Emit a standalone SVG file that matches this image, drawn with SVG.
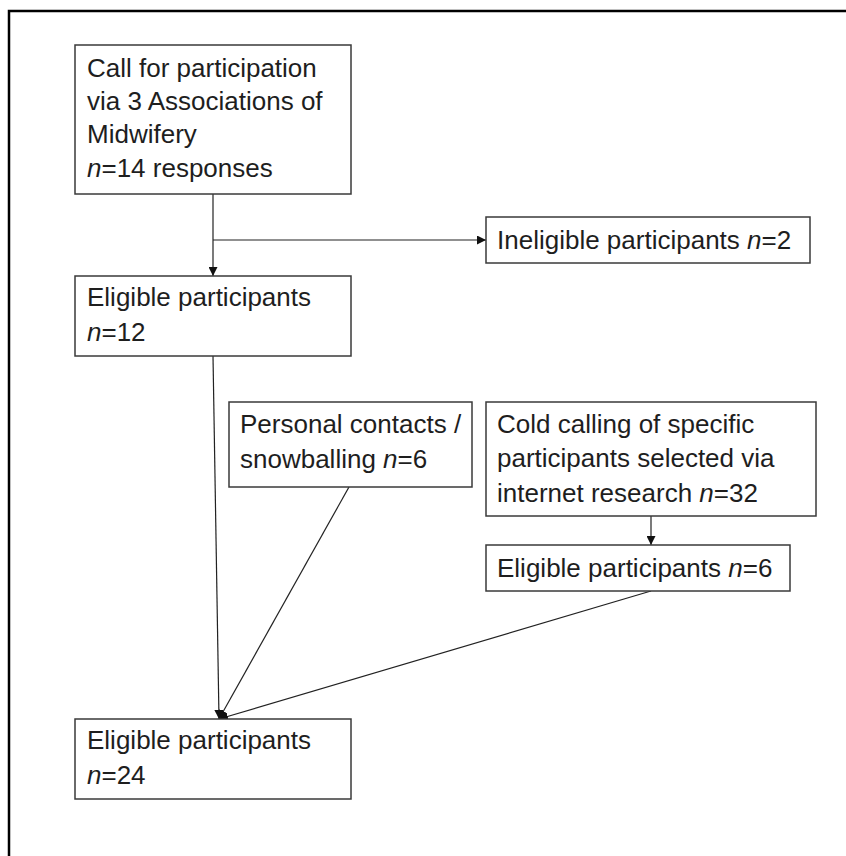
<svg xmlns="http://www.w3.org/2000/svg" width="846" height="856" viewBox="0 0 846 856">
<style>
.box{fill:#fff;stroke:#3a3a3a;stroke-width:1.5}
.t{font-family:"Liberation Sans",Arial,sans-serif;font-size:26px;fill:#1e1e1e}
.i{font-style:italic}
.c{fill:none;stroke:#222;stroke-width:1.2}
</style>
<defs>
<marker id="ah" viewBox="0 0 10 10" refX="10" refY="5" markerWidth="9" markerHeight="9" markerUnits="userSpaceOnUse" orient="auto">
<path d="M0,0 L10,5 L0,10 z" fill="#111"/>
</marker>
</defs>
<rect width="846" height="856" fill="#fff"/>
<path d="M9,856 V11 H846" fill="none" stroke="#000" stroke-width="2.5"/>
<g id="connectors">
<line class="c" x1="213" y1="194" x2="213" y2="276" marker-end="url(#ah)"/>
<line class="c" x1="213" y1="240" x2="486" y2="240" marker-end="url(#ah)"/>
<line class="c" x1="213" y1="356" x2="219" y2="719" marker-end="url(#ah)"/>
<line class="c" x1="349" y1="487" x2="219" y2="719" marker-end="url(#ah)"/>
<line class="c" x1="651" y1="591" x2="219" y2="719" marker-end="url(#ah)"/>
<line class="c" x1="651" y1="516" x2="651" y2="545" marker-end="url(#ah)"/>
</g>
<g id="call">
<rect class="box" x="75" y="45" width="276" height="149"/>
<text class="t" x="87" y="77">Call for participation</text>
<text class="t" x="87" y="110">via 3 Associations of</text>
<text class="t" x="87" y="143">Midwifery</text>
<text class="t" x="87" y="177"><tspan class="i">n</tspan>=14 responses</text>
</g>
<g id="ineligible">
<rect class="box" x="486" y="217" width="324" height="46"/>
<text class="t" x="497" y="249">Ineligible participants <tspan class="i">n</tspan>=2</text>
</g>
<g id="eligible12">
<rect class="box" x="75" y="276" width="276" height="80"/>
<text class="t" x="87" y="306">Eligible participants</text>
<text class="t" x="87" y="341"><tspan class="i">n</tspan>=12</text>
</g>
<g id="personal">
<rect class="box" x="229" y="402" width="243" height="85"/>
<text class="t" x="240" y="433">Personal contacts /</text>
<text class="t" x="240" y="468">snowballing <tspan class="i">n</tspan>=6</text>
</g>
<g id="cold">
<rect class="box" x="486" y="402" width="330" height="114"/>
<text class="t" x="497" y="433">Cold calling of specific</text>
<text class="t" x="497" y="467">participants selected via</text>
<text class="t" x="497" y="502">internet research <tspan class="i">n</tspan>=32</text>
</g>
<g id="eligible6">
<rect class="box" x="486" y="545" width="304" height="46"/>
<text class="t" x="497" y="577">Eligible participants <tspan class="i">n</tspan>=6</text>
</g>
<g id="eligible24">
<rect class="box" x="75" y="719" width="276" height="80"/>
<text class="t" x="87" y="749">Eligible participants</text>
<text class="t" x="87" y="784"><tspan class="i">n</tspan>=24</text>
</g>
</svg>
